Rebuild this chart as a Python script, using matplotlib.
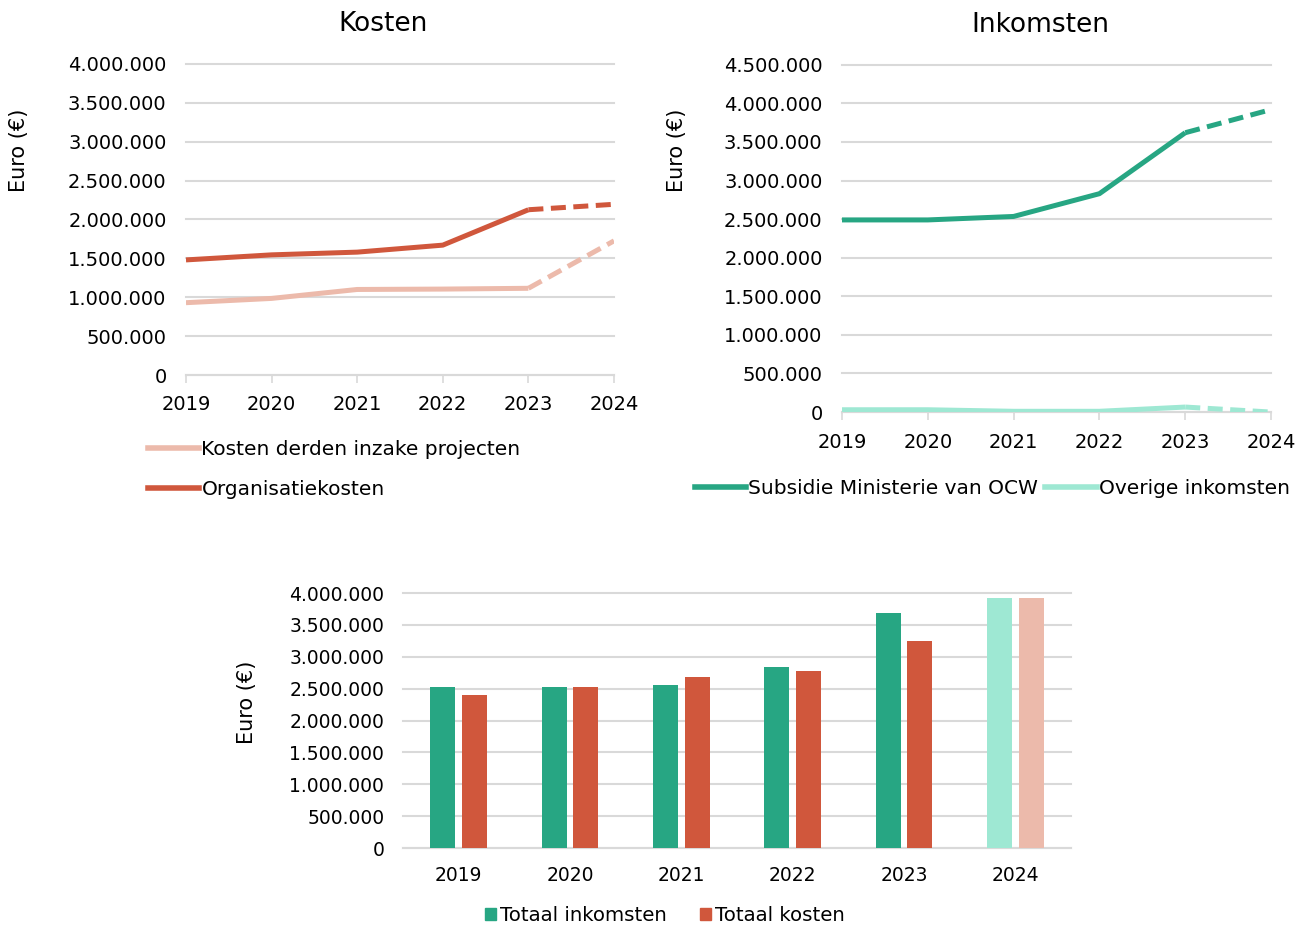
import numpy as np
import matplotlib.pyplot as plt
from matplotlib.ticker import FuncFormatter, MultipleLocator
from matplotlib.lines import Line2D
from matplotlib.patches import Patch

plt.rcParams['font.family'] = ['DejaVu Sans']

# data
years = [2019, 2020, 2021, 2022, 2023, 2024]
year_labels = ['2019', '2020', '2021', '2022', '2023', '2024']
organisatiekosten = [1480000, 1545000, 1580000, 1670000, 2125000, 2195000]
kosten_derden = [930000, 985000, 1100000, 1105000, 1115000, 1725000]
subsidie_ocw = [2490000, 2490000, 2535000, 2830000, 3620000, 3920000]
overige_ink = [30000, 30000, 10000, 10000, 65000, 0]
totaal_inkomsten = [2525000, 2525000, 2550000, 2840000, 3690000, 3920000]
totaal_kosten = [2400000, 2525000, 2680000, 2780000, 3250000, 3920000]

GREEN = '#27a683'
LGREEN = '#9ee8d3'
RED = '#d0573c'
LRED = '#ecbaab'
GRID = '#d9d9d9'

fmt = FuncFormatter(lambda v, p: f'{int(v):,}'.replace(',', '.'))


def style_axes(ax, ymax, fs, xpad, ypad, ticks=True):
    ax.set_ylim(0, ymax)
    ax.yaxis.set_major_locator(MultipleLocator(500000))
    ax.yaxis.set_major_formatter(fmt)
    ax.grid(axis='y', color=GRID, lw=1.5)
    for l in ax.get_ygridlines():
        l.set_clip_on(False)
    ax.set_axisbelow(True)
    for s in ['top', 'right', 'left']:
        ax.spines[s].set_visible(False)
    ax.spines['bottom'].set_color(GRID)
    ax.spines['bottom'].set_linewidth(1.5)
    ax.tick_params(axis='y', length=0, pad=ypad, labelsize=fs)
    if ticks:
        ax.tick_params(axis='x', length=6, width=1.2, color=GRID, pad=xpad, labelsize=fs)
    else:
        ax.tick_params(axis='x', length=0, pad=xpad, labelsize=fs)


def split_line(ax, x, y, color):
    ax.plot(x[:5], y[:5], color=color, lw=3.6, solid_capstyle='butt', zorder=3)
    ax.plot(x[4:], y[4:], color=color, lw=3.6, ls=(0, (3, 1.5)), zorder=3)


fig = plt.figure(figsize=(13.07, 9.26), dpi=100)

# Kosten
ax1 = fig.add_axes([0.1423, 0.595, 0.3275, 0.336])
split_line(ax1, years, kosten_derden, LRED)
split_line(ax1, years, organisatiekosten, RED)
ax1.set_xlim(2019, 2024)
ax1.set_xticks(years)
ax1.set_xticklabels(year_labels)
style_axes(ax1, 4000000, 14, 8.5, 14)
fig.text(0.293, 0.974, 'Kosten', fontsize=19, ha='center', va='center')
fig.text(0.0145, 0.838, 'Euro (€)', fontsize=15, rotation=90, ha='center', va='center')
h1 = [Line2D([], [], color=LRED, lw=4), Line2D([], [], color=RED, lw=4)]
fig.legend(h1, ['Kosten derden inzake projecten', 'Organisatiekosten'],
           loc='upper left', bbox_to_anchor=(0.113, 0.525), frameon=False,
           fontsize=14.5, handlelength=2.55, handletextpad=0.12, labelspacing=1.05,
           borderpad=0, borderaxespad=0)

# Inkomsten
ax2 = fig.add_axes([0.6442, 0.555, 0.3283, 0.375])
split_line(ax2, years, overige_ink, LGREEN)
split_line(ax2, years, subsidie_ocw, GREEN)
ax2.set_xlim(2019, 2024)
ax2.set_xticks(years)
ax2.set_xticklabels(year_labels)
style_axes(ax2, 4500000, 14, 9, 14)
fig.text(0.796, 0.973, 'Inkomsten', fontsize=19, ha='center', va='center')
fig.text(0.518, 0.838, 'Euro (€)', fontsize=15, rotation=90, ha='center', va='center')
h2 = [Line2D([], [], color=GREEN, lw=4), Line2D([], [], color=LGREEN, lw=4)]
fig.legend(h2, ['Subsidie Ministerie van OCW', 'Overige inkomsten'],
           loc='upper left', bbox_to_anchor=(0.5315, 0.483), frameon=False, ncol=2,
           fontsize=14.5, handlelength=2.55, handletextpad=0.12, columnspacing=0.35,
           borderpad=0, borderaxespad=0)

# Totalen
ax3 = fig.add_axes([0.3083, 0.0842, 0.5111, 0.2754])
x = np.arange(len(years))
w = 0.225
ink_colors = [GREEN] * 5 + [LGREEN]
kost_colors = [RED] * 5 + [LRED]
ax3.bar(x - 0.142, totaal_inkomsten, w, color=ink_colors, zorder=3)
ax3.bar(x + 0.142, totaal_kosten, w, color=kost_colors, zorder=3)
ax3.set_xlim(-0.5, 5.5)
ax3.set_xticks(x)
ax3.set_xticklabels(year_labels)
style_axes(ax3, 4000000, 13.5, 13, 13.5, ticks=False)
fig.text(0.189, 0.242, 'Euro (€)', fontsize=15, rotation=90, ha='center', va='center')
h3 = [Patch(color=GREEN), Patch(color=RED)]
fig.legend(h3, ['Totaal inkomsten', 'Totaal kosten'],
           loc='center left', bbox_to_anchor=(0.371, 0.011), frameon=False, ncol=2,
           fontsize=14.2, handlelength=0.58, handleheight=0.58, handletextpad=0.2,
           columnspacing=1.65, borderpad=0, borderaxespad=0)

fig.savefig('out.png', dpi=100)
